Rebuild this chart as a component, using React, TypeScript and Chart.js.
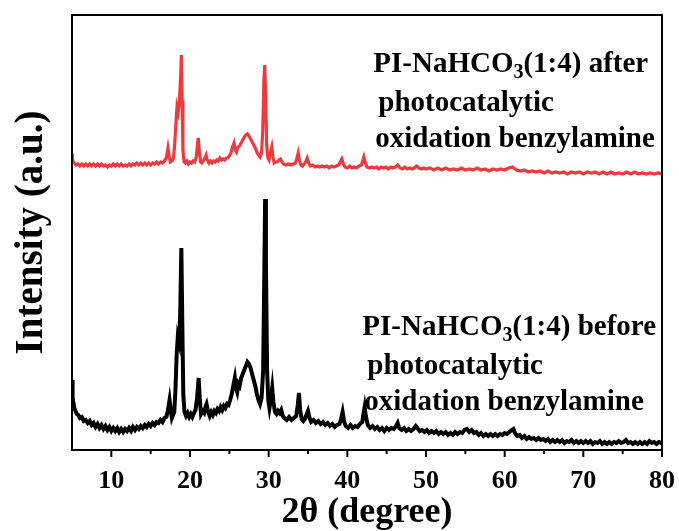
import React, { useEffect, useRef } from "react";
import { Chart, registerables } from "chart.js";

Chart.register(...registerables);

// XRD scan of PI-NaHCO3(1:4) before photocatalysis: [2θ (°), intensity (a.u.)]
const beforeScan: [number, number][] = [
  [5.0, 70], [5.05, 62], [5.1, 52], [5.2, 46], [5.3, 42], [5.45, 39], [5.6, 36], [5.8, 35],
  [6.0, 32], [6.25, 33], [6.5, 29], [6.75, 30], [7.0, 27], [7.25, 29], [7.5, 25], [7.75, 27],
  [8.0, 23], [8.25, 26], [8.5, 22], [8.75, 25], [9.0, 21], [9.25, 24], [9.5, 20], [9.75, 23],
  [10.0, 19], [10.25, 22], [10.5, 19], [10.75, 22], [11.0, 18], [11.25, 21], [11.5, 18], [11.75, 21],
  [12.0, 19], [12.25, 22], [12.5, 19], [12.75, 23], [13.0, 20], [13.25, 23], [13.5, 21], [13.75, 24],
  [14.0, 22], [14.25, 25], [14.5, 23], [14.75, 26], [15.0, 24], [15.25, 27], [15.5, 25], [15.75, 28],
  [16.0, 27], [16.25, 30], [16.5, 28], [16.75, 32], [17.0, 33], [17.2, 40], [17.4, 50], [17.55, 40],
  [17.7, 32], [17.85, 35], [18.0, 38], [18.15, 60], [18.3, 95], [18.45, 113], [18.6, 108], [18.75, 135],
  [18.9, 202], [19.05, 110], [19.15, 55], [19.3, 38], [19.5, 34], [19.7, 37], [19.9, 33], [20.1, 36],
  [20.3, 33], [20.5, 37], [20.7, 40], [20.9, 52], [21.1, 72], [21.25, 50], [21.4, 36], [21.6, 39],
  [21.8, 37], [22.0, 44], [22.1, 46], [22.3, 38], [22.5, 34], [22.7, 38], [22.9, 35], [23.1, 39],
  [23.3, 37], [23.5, 41], [23.7, 39], [23.9, 43], [24.1, 40], [24.3, 44], [24.5, 42], [24.7, 46],
  [24.9, 45], [25.1, 50], [25.3, 56], [25.5, 64], [25.7, 72], [25.85, 62], [26.0, 58], [26.15, 66],
  [26.3, 64], [26.5, 72], [26.7, 76], [26.9, 80], [27.1, 84], [27.3, 88], [27.5, 86], [27.7, 82],
  [27.9, 76], [28.1, 70], [28.3, 64], [28.5, 56], [28.7, 50], [28.9, 46], [29.1, 52], [29.3, 80],
  [29.45, 180], [29.55, 251], [29.65, 190], [29.8, 80], [29.95, 50], [30.1, 42], [30.3, 52], [30.45, 62],
  [30.6, 48], [30.8, 38], [31.0, 36], [31.2, 39], [31.4, 37], [31.6, 40], [31.8, 34], [32.0, 32],
  [32.3, 30], [32.6, 33], [32.9, 30], [33.2, 32], [33.5, 34], [33.7, 45], [33.85, 57], [34.0, 40],
  [34.2, 31], [34.4, 29], [34.6, 31], [34.8, 35], [35.0, 39], [35.2, 32], [35.4, 28], [35.7, 30],
  [36.0, 27], [36.3, 29], [36.6, 26], [36.9, 28], [37.2, 25], [37.5, 27], [37.8, 24], [38.1, 26],
  [38.4, 23], [38.7, 25], [39.0, 26], [39.2, 31], [39.4, 38], [39.6, 28], [39.8, 24], [40.1, 22],
  [40.4, 25], [40.7, 22], [41.0, 24], [41.3, 23], [41.6, 26], [41.9, 28], [42.05, 36], [42.2, 43],
  [42.35, 34], [42.6, 25], [42.9, 22], [43.2, 24], [43.5, 21], [43.8, 23], [44.1, 20], [44.4, 22],
  [44.7, 19], [45.0, 22], [45.3, 20], [45.6, 22], [45.9, 21], [46.2, 24], [46.4, 27], [46.6, 22],
  [46.9, 20], [47.2, 22], [47.5, 19], [47.8, 21], [48.1, 19], [48.4, 21], [48.7, 24], [48.9, 22],
  [49.2, 19], [49.5, 20], [49.8, 18], [50.1, 20], [50.4, 17], [50.7, 19], [51.0, 17], [51.3, 19],
  [51.6, 16], [51.9, 18], [52.2, 16], [52.5, 18], [52.8, 15], [53.1, 17], [53.4, 15], [53.7, 18],
  [54.0, 16], [54.3, 18], [54.6, 17], [54.9, 20], [55.2, 21], [55.5, 18], [55.8, 20], [56.1, 17],
  [56.4, 18], [56.7, 15], [57.0, 17], [57.3, 14], [57.6, 16], [57.9, 14], [58.2, 16], [58.5, 14],
  [58.8, 16], [59.1, 14], [59.4, 16], [59.7, 15], [60.0, 17], [60.3, 16], [60.6, 18], [60.9, 20],
  [61.1, 21], [61.3, 17], [61.6, 14], [61.9, 15], [62.2, 12], [62.5, 14], [62.8, 11], [63.1, 13],
  [63.4, 11], [63.7, 12], [64.0, 10], [64.3, 12], [64.6, 10], [64.9, 11], [65.2, 9], [65.5, 11],
  [65.8, 8], [66.1, 10], [66.4, 8], [66.7, 10], [67.0, 8], [67.3, 10], [67.6, 7], [67.9, 9],
  [68.2, 8], [68.5, 10], [68.8, 7], [69.1, 9], [69.4, 7], [69.7, 9], [70.0, 7], [70.3, 9],
  [70.6, 7], [70.9, 9], [71.2, 6], [71.5, 8], [71.8, 7], [72.1, 9], [72.4, 6], [72.7, 8],
  [73.0, 6], [73.3, 8], [73.6, 6], [73.9, 8], [74.2, 7], [74.5, 9], [74.8, 7], [75.1, 8],
  [75.4, 10], [75.7, 7], [76.0, 8], [76.3, 6], [76.6, 8], [76.9, 6], [77.2, 8], [77.5, 6],
  [77.8, 8], [78.1, 6], [78.4, 9], [78.7, 7], [79.0, 8], [79.3, 6], [79.6, 8], [80.0, 7],
];

// XRD scan after photocatalytic oxidation of benzylamine, stacked above: [2θ (°), intensity (a.u.)]
const afterScan: [number, number][] = [
  [5.0, 296], [5.05, 292], [5.15, 288], [5.3, 287], [5.5, 285], [5.75, 286], [6.0, 284], [6.25, 286],
  [6.5, 284], [6.75, 286], [7.0, 284], [7.25, 286], [7.5, 284], [7.75, 286], [8.0, 284], [8.25, 286],
  [8.5, 284], [8.75, 286], [9.0, 284], [9.25, 285], [9.5, 283], [9.75, 285], [10.0, 284], [10.25, 286],
  [10.5, 284], [10.75, 286], [11.0, 284], [11.25, 286], [11.5, 284], [11.75, 285], [12.0, 284], [12.25, 286],
  [12.5, 284], [12.75, 286], [13.0, 285], [13.25, 287], [13.5, 285], [13.75, 287], [14.0, 285], [14.25, 287],
  [14.5, 285], [14.75, 287], [15.0, 285], [15.25, 287], [15.5, 286], [15.75, 288], [16.0, 286], [16.25, 288],
  [16.5, 287], [16.75, 289], [17.0, 292], [17.2, 302], [17.35, 294], [17.5, 288], [17.7, 289], [17.9, 292],
  [18.05, 305], [18.2, 325], [18.35, 343], [18.5, 338], [18.65, 348], [18.8, 372], [18.9, 395], [19.0, 350],
  [19.1, 300], [19.25, 288], [19.4, 287], [19.6, 289], [19.8, 286], [20.0, 288], [20.2, 287], [20.4, 289],
  [20.6, 288], [20.8, 293], [20.95, 305], [21.05, 312], [21.2, 298], [21.35, 288], [21.5, 287], [21.7, 289],
  [21.9, 292], [22.05, 295], [22.2, 290], [22.4, 287], [22.6, 289], [22.8, 287], [23.0, 289], [23.2, 288],
  [23.4, 290], [23.6, 289], [23.8, 292], [24.0, 290], [24.2, 291], [24.4, 290], [24.6, 292], [24.8, 292],
  [25.0, 294], [25.2, 297], [25.4, 303], [25.6, 307], [25.75, 300], [25.9, 298], [26.1, 303], [26.3, 304],
  [26.5, 307], [26.7, 310], [26.9, 313], [27.1, 315], [27.3, 316], [27.5, 314], [27.7, 311], [27.9, 308],
  [28.1, 305], [28.3, 302], [28.5, 298], [28.7, 295], [28.9, 293], [29.1, 297], [29.25, 320], [29.4, 370],
  [29.5, 385], [29.6, 360], [29.75, 305], [29.9, 292], [30.05, 290], [30.25, 298], [30.4, 303], [30.55, 293],
  [30.7, 287], [30.9, 288], [31.1, 288], [31.3, 290], [31.5, 291], [31.7, 288], [31.9, 286], [32.2, 285],
  [32.5, 286], [32.8, 285], [33.1, 286], [33.4, 287], [33.6, 292], [33.75, 297], [33.9, 290], [34.1, 285],
  [34.3, 284], [34.5, 286], [34.7, 288], [34.9, 292], [35.1, 287], [35.3, 284], [35.6, 285], [35.9, 283],
  [36.2, 284], [36.5, 283], [36.8, 284], [37.1, 283], [37.4, 284], [37.7, 282], [38.0, 284], [38.3, 283],
  [38.6, 284], [38.9, 285], [39.1, 288], [39.3, 291], [39.5, 286], [39.7, 283], [40.0, 282], [40.3, 284],
  [40.6, 282], [40.9, 283], [41.2, 282], [41.5, 284], [41.8, 285], [41.95, 289], [42.1, 293], [42.25, 288],
  [42.5, 283], [42.8, 282], [43.1, 283], [43.4, 282], [43.7, 283], [44.0, 281], [44.3, 283], [44.6, 282],
  [44.9, 283], [45.2, 281], [45.5, 283], [45.8, 282], [46.1, 283], [46.4, 285], [46.7, 282], [47.0, 281],
  [47.3, 283], [47.6, 281], [47.9, 282], [48.2, 281], [48.5, 282], [48.8, 284], [49.1, 282], [49.4, 281],
  [49.7, 282], [50.0, 281], [50.5, 282], [51.0, 280], [51.5, 282], [52.0, 280], [52.5, 282], [53.0, 280],
  [53.5, 281], [54.0, 280], [54.5, 282], [55.0, 280], [55.5, 281], [56.0, 280], [56.5, 282], [57.0, 280],
  [57.5, 281], [58.0, 279], [58.5, 281], [59.0, 280], [59.5, 281], [60.0, 280], [60.5, 282], [61.0, 283],
  [61.5, 280], [62.0, 279], [62.5, 280], [63.0, 278], [63.5, 279], [64.0, 278], [64.5, 279], [65.0, 277],
  [65.5, 279], [66.0, 277], [66.5, 278], [67.0, 277], [67.5, 278], [68.0, 276], [68.5, 278], [69.0, 277],
  [69.5, 278], [70.0, 276], [70.5, 278], [71.0, 277], [71.5, 278], [72.0, 276], [72.5, 278], [73.0, 276],
  [73.5, 278], [74.0, 276], [74.5, 277], [75.0, 276], [75.5, 278], [76.0, 276], [76.5, 278], [77.0, 276],
  [77.5, 277], [78.0, 276], [78.5, 277], [79.0, 276], [79.5, 277], [80.0, 276],
];

const xTickValues = [10, 20, 30, 40, 50, 60, 70, 80];

const SERIF = '"Liberation Serif", "Times New Roman", serif';
const BLACK = "#000000";
const RED = "#ee3a3e";

type Note = { theta: number; level: number; head: string; tail: string };

const notes: Note[] = [
  { theta: 43.3, level: 378, head: "PI-NaHCO", tail: "(1:4) after" },
  { theta: 41.9, level: 115, head: "PI-NaHCO", tail: "(1:4) before" },
];

const framePlugin = {
  id: "frameAndNotes",
  afterDraw(chart: any) {
    const { ctx, chartArea, scales } = chart;
    const { left, right, top, bottom } = chartArea;
    ctx.save();
    ctx.strokeStyle = BLACK;
    ctx.lineWidth = 2;
    ctx.strokeRect(left, top, right - left, bottom - top);

    // outward tick marks: major every 10°, minor every 5°
    for (let v = 10; v <= 80; v += 5) {
      const px = scales.x.getPixelForValue(v);
      const len = v % 10 === 0 ? 7 : 4;
      ctx.beginPath();
      ctx.moveTo(px, bottom);
      ctx.lineTo(px, bottom + len);
      ctx.stroke();
    }

    ctx.fillStyle = BLACK;
    ctx.textBaseline = "alphabetic";
    ctx.textAlign = "left";
    const big = `bold 29px ${SERIF}`;
    const small = `bold 20px ${SERIF}`;
    notes.forEach((n) => {
      const x = scales.x.getPixelForValue(n.theta);
      const y = scales.y.getPixelForValue(n.level);
      ctx.font = big;
      ctx.fillText(n.head, x, y);
      let w = ctx.measureText(n.head).width;
      ctx.font = small;
      ctx.fillText("3", x + w, y + 6);
      w += ctx.measureText("3").width;
      ctx.font = big;
      ctx.fillText(n.tail, x + w, y);
      ctx.fillText("photocatalytic", x + 5, y + 39);
      ctx.fillText("oxidation benzylamine", x + 2, y + 75);
    });
    ctx.restore();
  },
};

export default function App() {
  const canvasRef = useRef<HTMLCanvasElement | null>(null);

  useEffect(() => {
    const canvas = canvasRef.current;
    if (!canvas) return;
    const toPoints = (scan: [number, number][]) => scan.map(([x, y]) => ({ x, y }));

    const chart = new Chart(canvas, {
      type: "line",
      data: {
        datasets: [
          {
            label: "before",
            data: toPoints(beforeScan),
            borderColor: BLACK,
            borderWidth: 4,
            pointRadius: 0,
            tension: 0,
          },
          {
            label: "after",
            data: toPoints(afterScan),
            borderColor: RED,
            borderWidth: 3.2,
            pointRadius: 0,
            tension: 0,
          },
        ],
      },
      options: {
        responsive: false,
        animation: false,
        layout: { padding: { left: 0, top: 15, right: 17, bottom: 0 } },
        plugins: { legend: { display: false }, tooltip: { enabled: false } },
        scales: {
          x: {
            type: "linear",
            min: 5,
            max: 80,
            afterBuildTicks: (scale: any) => {
              scale.ticks = xTickValues.map((value) => ({ value }));
            },
            afterFit: (scale: any) => {
              scale.height = 81;
              scale.paddingLeft = 0;
              scale.paddingRight = 0;
            },
            grid: { display: true, drawOnChartArea: false, drawTicks: false },
            border: { display: false },
            ticks: {
              color: BLACK,
              padding: 16,
              maxRotation: 0,
              autoSkip: false,
              font: { family: SERIF, size: 26, weight: "bold" },
            },
            title: {
              display: true,
              text: "2θ (degree)",
              color: BLACK,
              padding: { top: 0, bottom: 0 },
              font: { family: SERIF, size: 36, weight: "bold", lineHeight: 1 },
            },
          },
          y: {
            min: 0,
            max: 435,
            afterFit: (scale: any) => {
              scale.width = 72;
            },
            grid: { display: false },
            border: { display: false },
            ticks: { display: false },
            title: {
              display: true,
              text: "Intensity (a.u.)",
              color: BLACK,
              padding: { top: 9, bottom: 0 },
              font: { family: SERIF, size: 39, weight: "bold" },
            },
          },
        },
      },
      plugins: [framePlugin],
    });
    return () => chart.destroy();
  }, []);

  return (
    <div style={{ position: "fixed", left: 0, top: 0, width: 679, height: 531, background: "#fff" }}>
      <canvas ref={canvasRef} width={679} height={531} />
    </div>
  );
}
